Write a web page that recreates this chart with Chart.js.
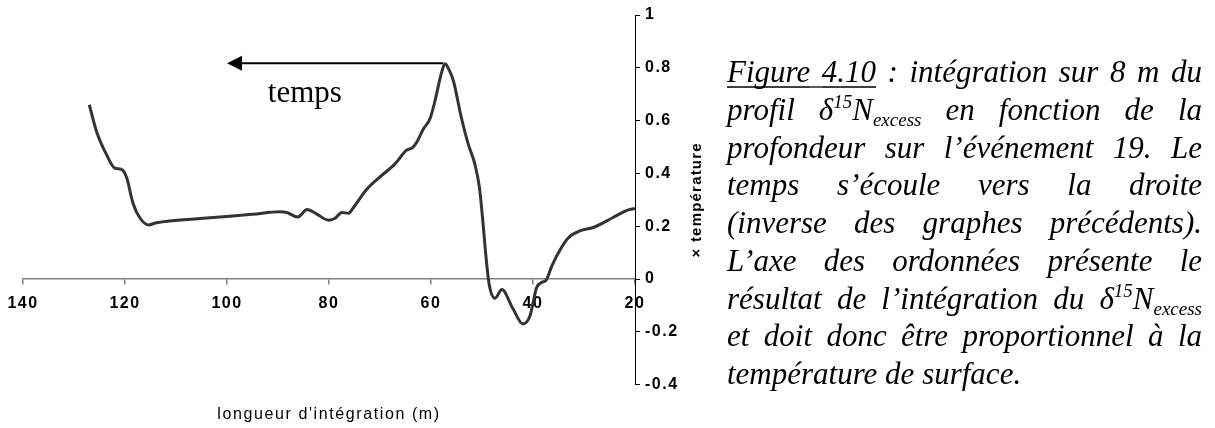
<!DOCTYPE html>
<html>
<head>
<meta charset="utf-8">
<script src="https://cdn.jsdelivr.net/npm/chart.js@4.4.1/dist/chart.umd.min.js"></script>
<style>
  body { margin: 0; background: #fff; }
  #wrap { position: absolute; left: 0; top: 0; width: 720px; height: 428px; }
  #caption { position: absolute; left: 720px; top: 0; }
</style>
</head>
<body>
<div id="wrap"><canvas id="chart"></canvas></div>
<canvas id="caption" width="495" height="428"></canvas>
<script>
// longueur d'intégration (m)
const longueur = [127.0, 125.6, 123.6, 122.0, 120.7, 119.7, 118.4, 117.1, 115.4, 113.8,
  105.3, 95.0, 89.6, 88.3, 86.1, 84.3, 82.4, 80.1, 78.8, 77.5,
  76.2, 75.2, 72.6, 70.0, 67.1, 64.8, 63.6, 62.6, 61.5, 60.2,
  59.2, 58.0, 57.25, 56.4, 55.6, 54.0, 52.7, 51.4, 50.5, 49.9,
  49.2, 48.6, 47.45, 46.1, 44.0, 42.0, 40.6, 39.3, 38.3, 37.45,
  36.3, 34.7, 33.1, 30.8, 28.2, 24.3, 21.6, 20.0];
// x temperature
const temperature = [0.66, 0.56, 0.47, 0.42, 0.415, 0.385, 0.285, 0.232, 0.205, 0.213,
  0.229, 0.245, 0.255, 0.252, 0.235, 0.263, 0.246, 0.223, 0.230, 0.252,
  0.249, 0.271, 0.34, 0.387, 0.435, 0.488, 0.498, 0.525, 0.568, 0.607,
  0.676, 0.777, 0.815, 0.79, 0.75, 0.607, 0.511, 0.435, 0.346, 0.233,
  0.081, -0.02, -0.073, -0.04, -0.11, -0.17, -0.14, -0.033, -0.013, -0.005,
  0.05, 0.11, 0.155, 0.182, 0.195, 0.233, 0.26, 0.267];

const xTicks = [20, 40, 60, 80, 100, 120, 140];
const xTickLabels = ['20', '40', '60', '80', '100', '120', '140'];
const yTicks = [-0.4, -0.2, 0, 0.2, 0.4, 0.6, 0.8, 1];
const yTickLabels = ['-0.4', '-0.2', '0', '0.2', '0.4', '0.6', '0.8', '1'];

// arrow "temps" (data units)
const arrowX = [57.6, 100];
const arrowY = 0.817;
const tempsPos = [92.0, 0.67];

// caption, one entry per line: [text, style]
const captionLines = [
  [['Figure 4.10', 'u'], [' : intégration sur 8 m du', '']],
  [['profil ', ''], ['δ', ''], ['15', 'sup'], ['N', ''], ['excess', 'sub'], [' en fonction de la', '']],
  [['profondeur sur l’événement 19. Le', '']],
  [['temps s’écoule vers la droite', '']],
  [['(inverse des graphes précédents).', '']],
  [['L’axe des ordonnées présente le', '']],
  [['résultat de l’intégration du ', ''], ['δ', ''], ['15', 'sup'], ['N', ''], ['excess', 'sub']],
  [['et doit donc être proportionnel à la', '']],
  [['température de surface.', '']]
];

const points = longueur.map((x, i) => ({ x: x, y: temperature[i] }));

function drawCaption() {
  const ctx = document.getElementById('caption').getContext('2d');
  const left = 7, right = 482, base0 = 82, lh = 37.75;
  const big = 'italic 31px "Liberation Serif", serif';
  const small = 'italic 19px "Liberation Serif", serif';
  ctx.fillStyle = '#000';
  ctx.strokeStyle = '#000';
  ctx.textBaseline = 'alphabetic';
  captionLines.forEach((line, li) => {
    // split into tokens: words and spaces
    const toks = [];
    line.forEach(([text, st]) => {
      text.split(/( )/).forEach(t => { if (t) toks.push({ t: t, st: st }); });
    });
    let natural = 0, spaces = 0;
    toks.forEach(k => {
      ctx.font = (k.st === 'sup' || k.st === 'sub') ? small : big;
      k.w = ctx.measureText(k.t).width;
      natural += k.w;
      if (k.t === ' ') spaces++;
    });
    const last = li === captionLines.length - 1;
    const extra = (!last && spaces) ? (right - left - natural) / spaces : 0;
    const y = base0 + li * lh;
    let x = left;
    toks.forEach(k => {
      ctx.font = (k.st === 'sup' || k.st === 'sub') ? small : big;
      let dy = 0;
      if (k.st === 'sup') dy = -12;
      if (k.st === 'sub') dy = 6;
      if (k.t !== ' ') ctx.fillText(k.t, x, y + dy);
      const w = k.w + (k.t === ' ' ? extra : 0);
      if (k.st === 'u') {
        ctx.lineWidth = 1.3;
        ctx.beginPath();
        ctx.moveTo(x, y + 5);
        ctx.lineTo(x + w, y + 5);
        ctx.stroke();
      }
      x += w;
    });
  });
}

const annotations = {
  id: 'annotations',
  beforeDraw(chart) {
    chart.ctx.letterSpacing = '1.5px';
  },
  afterDraw(chart) {
    const ctx = chart.ctx;
    const xs = chart.scales.x, ys = chart.scales.y;
    const area = chart.chartArea;
    ctx.save();
    ctx.letterSpacing = '0px';
    // arrow
    const ay = ys.getPixelForValue(arrowY);
    const x0 = xs.getPixelForValue(arrowX[0]);
    const x1 = xs.getPixelForValue(arrowX[1]);
    ctx.strokeStyle = '#000';
    ctx.lineWidth = 2;
    ctx.beginPath();
    ctx.moveTo(x0, ay);
    ctx.lineTo(x1 + 12, ay);
    ctx.stroke();
    ctx.fillStyle = '#000';
    ctx.beginPath();
    ctx.moveTo(x1, ay);
    ctx.lineTo(x1 + 15, ay - 7.5);
    ctx.lineTo(x1 + 15, ay + 7.5);
    ctx.closePath();
    ctx.fill();
    // temps
    ctx.font = '31px "Liberation Serif", serif';
    ctx.textAlign = 'left';
    ctx.textBaseline = 'alphabetic';
    ctx.fillText('temps', xs.getPixelForValue(tempsPos[0]), ys.getPixelForValue(tempsPos[1]));
    // x title
    ctx.letterSpacing = '1.6px';
    ctx.font = '16px "Liberation Sans", Arial, sans-serif';
    ctx.textAlign = 'center';
    ctx.textBaseline = 'middle';
    ctx.fillText("longueur d'intégration (m)", (area.left + area.right) / 2, 415);
    // y title
    ctx.letterSpacing = '1.2px';
    ctx.font = 'bold 15px "Liberation Sans", Arial, sans-serif';
    ctx.translate(area.right + 62, (area.top + area.bottom) / 2);
    ctx.rotate(-Math.PI / 2);
    ctx.fillText('× température', 0, 0);
    ctx.restore();
  }
};

const tickFont = { family: '"Liberation Sans", Arial, sans-serif', size: 16, weight: 'bold' };

new Chart(document.getElementById('chart'), {
  type: 'scatter',
  data: {
    datasets: [{
      data: points,
      showLine: true,
      borderColor: '#333333',
      borderWidth: 3,
      pointRadius: 0,
      cubicInterpolationMode: 'monotone',
      fill: false
    }]
  },
  options: {
    responsive: true,
    maintainAspectRatio: false,
    animation: false,
    layout: { padding: { left: 23, top: 15, right: 0, bottom: 43.4 } },
    plugins: { legend: { display: false }, tooltip: { enabled: false } },
    scales: {
      x: {
        type: 'linear',
        reverse: true,
        min: 20,
        max: 140,
        position: { y: 0 },
        afterBuildTicks: s => { s.ticks = xTicks.map(v => ({ value: v })); },
        grid: { drawOnChartArea: false, tickLength: 5, color: '#808080', lineWidth: 1.5 },
        border: { color: '#808080', width: 1.5 },
        ticks: {
          autoSkip: false, maxRotation: 0, padding: 10, color: '#000', font: tickFont,
          callback: (v, i) => xTickLabels[i]
        }
      },
      y: {
        type: 'linear',
        position: 'right',
        min: -0.4,
        max: 1,
        afterBuildTicks: s => { s.ticks = yTicks.map(v => ({ value: v })); },
        afterFit: s => { s.width = 85; },
        grid: { drawOnChartArea: false, tickLength: 5, color: '#000' },
        border: { color: '#000', width: 1 },
        ticks: {
          padding: 5, color: '#000', font: tickFont,
          callback: (v, i) => yTickLabels[i]
        }
      }
    }
  },
  plugins: [annotations]
});

drawCaption();
</script>
</body>
</html>
